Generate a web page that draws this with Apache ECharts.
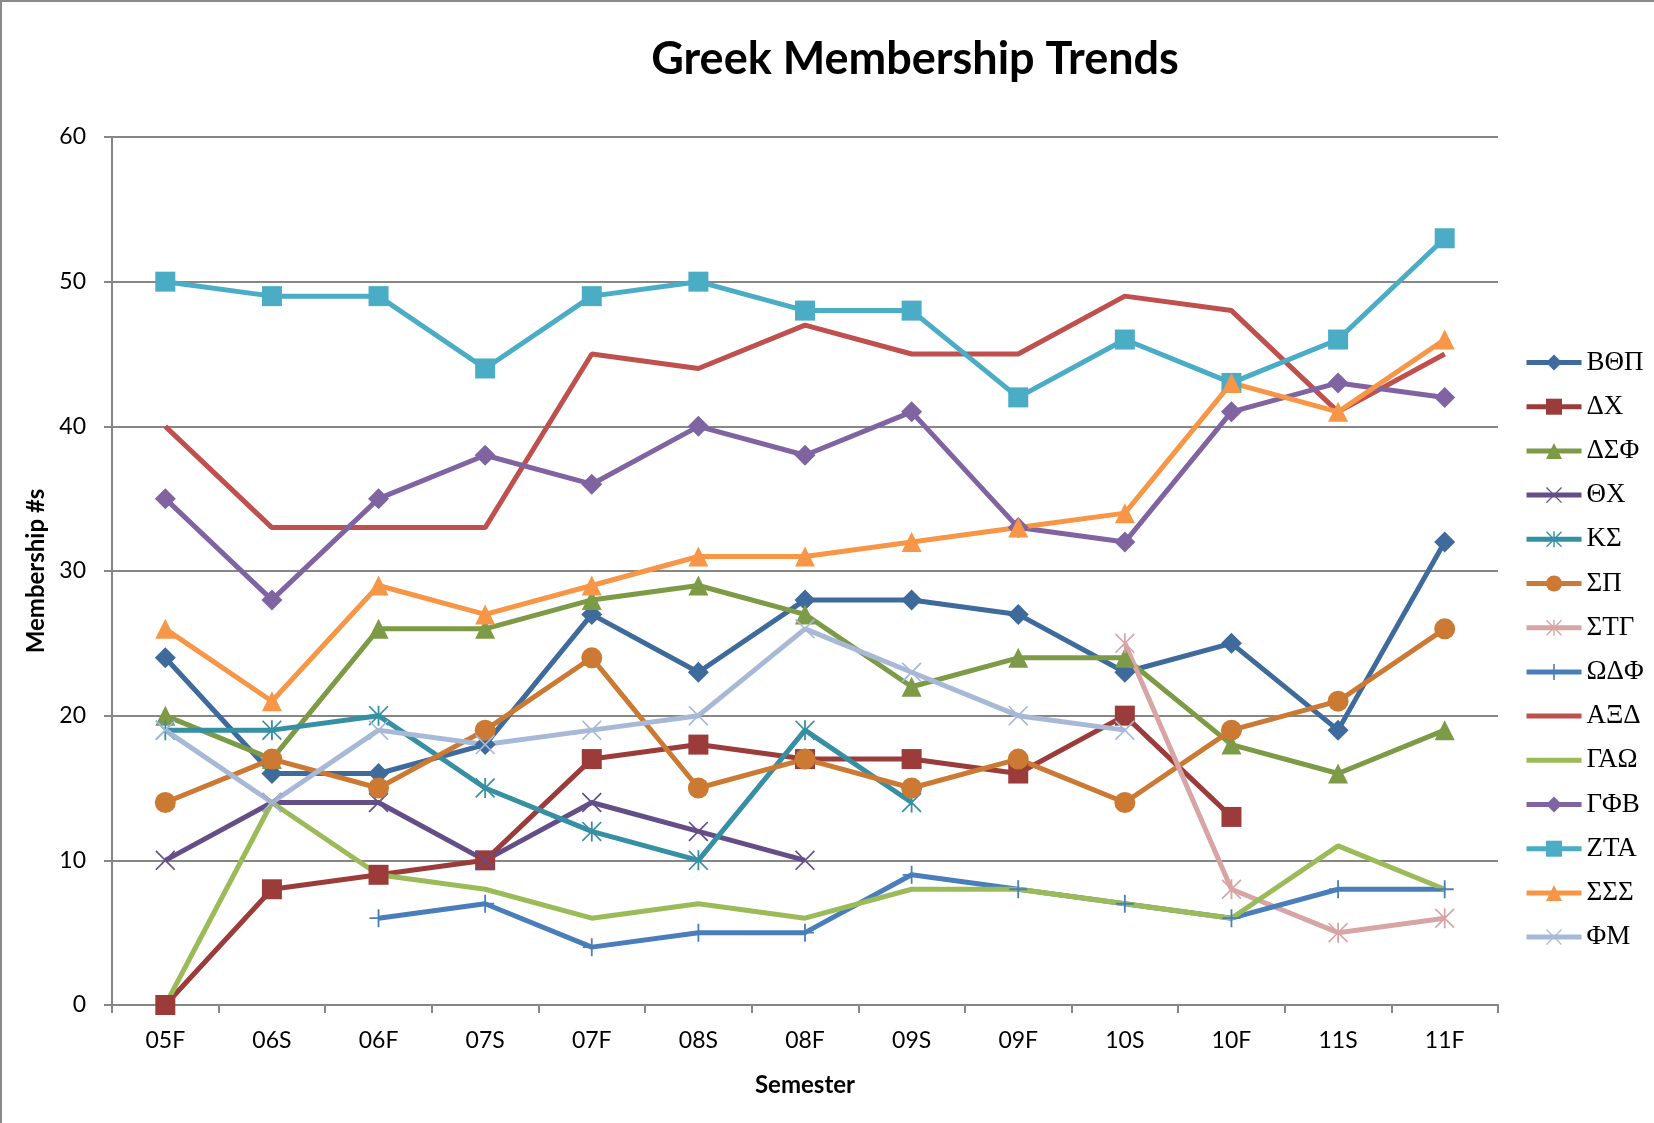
<!DOCTYPE html>
<html>
<head>
<meta charset="utf-8">
<script src="https://cdn.jsdelivr.net/npm/echarts@6/dist/echarts.min.js"></script>
<style>
html,body{margin:0;padding:0;background:#fff;}
#chart{width:1654px;height:1123px;}
</style>
</head>
<body>
<div id="chart"></div>
<script>
const semesters = ['05F','06S','06F','07S','07F','08S','08F','09S','09F','10S','10F','11S','11F'];
const yTicks = [0, 10, 20, 30, 40, 50, 60];

const BThP = [24, 16, 16, 18, 27, 23, 28, 28, 27, 23, 25, 19, 32];
const DX   = [0, 8, 9, 10, 17, 18, 17, 17, 16, 20, 13, null, null];
const DSF  = [20, 17, 26, 26, 28, 29, 27, 22, 24, 24, 18, 16, 19];
const ThX  = [10, 14, 14, 10, 14, 12, 10, null, null, null, null, null, null];
const KS   = [19, 19, 20, 15, 12, 10, 19, 14, null, null, null, null, null];
const SP   = [14, 17, 15, 19, 24, 15, 17, 15, 17, 14, 19, 21, 26];
const STG  = [null, null, null, null, null, null, null, null, null, 25, 8, 5, 6];
const OmDF = [null, null, 6, 7, 4, 5, 5, 9, 8, 7, 6, 8, 8];
const AXD  = [40, 33, 33, 33, 45, 44, 47, 45, 45, 49, 48, 41, 45];
const GAO  = [0, 14, 9, 8, 6, 7, 6, 8, 8, 7, 6, 11, 8];
const GFB  = [35, 28, 35, 38, 36, 40, 38, 41, 33, 32, 41, 43, 42];
const ZTA  = [50, 49, 49, 44, 49, 50, 48, 48, 42, 46, 43, 46, 53];
const SSS  = [26, 21, 29, 27, 29, 31, 31, 32, 33, 34, 43, 41, 46];
const FM   = [19, 14, 19, 18, 19, 20, 26, 23, 20, 19, null, null, null];

const X_PATH = 'path://M0,1.2 L1.2,0 L10,8.8 L18.8,0 L20,1.2 L11.2,10 L20,18.8 L18.8,20 L10,11.2 L1.2,20 L0,18.8 L8.8,10 Z';
const STAR_PATH = 'path://M0,1.2 L1.2,0 L10,8.8 L18.8,0 L20,1.2 L11.2,10 L20,18.8 L18.8,20 L10,11.2 L1.2,20 L0,18.8 L8.8,10 Z M9.1,0 L10.9,0 L10.9,20 L9.1,20 Z';
const PLUS_PATH = 'path://M9,0 L11,0 L11,9 L20,9 L20,11 L11,11 L11,20 L9,20 L9,11 L0,11 L0,9 L9,9 Z';

function mk(name, data, color, symbol, size) {
  return {
    name: name,
    type: 'line',
    data: data,
    symbol: symbol || 'none',
    showSymbol: !!symbol,
    symbolSize: size || 20,
    lineStyle: { color: color, width: 5 },
    itemStyle: { color: color },
    connectNulls: false,
    emphasis: { disabled: true }
  };
}

const series = [
  mk('ΒΘΠ', BThP, '#3E6A9C', 'diamond', 21),
  mk('ΔΧ', DX, '#9C3C3A', 'rect', 20),
  mk('ΔΣΦ', DSF, '#7D9A46', 'triangle', 20),
  mk('ΘΧ', ThX, '#644E88', X_PATH, 20),
  mk('ΚΣ', KS, '#378FA3', STAR_PATH, 20),
  mk('ΣΠ', SP, '#CC7A33', 'circle', 21),
  mk('ΣΤΓ', STG, '#D8A5A5', STAR_PATH, 20),
  mk('ΩΔΦ', OmDF, '#4A7EBB', PLUS_PATH, 18),
  mk('ΑΞΔ', AXD, '#C0504D', null),
  mk('ΓΑΩ', GAO, '#9BBB59', null),
  mk('ΓΦΒ', GFB, '#8064A2', 'diamond', 21),
  mk('ΖΤΑ', ZTA, '#4BACC6', 'rect', 20),
  mk('ΣΣΣ', SSS, '#F79646', 'triangle', 20),
  mk('ΦΜ', FM, '#A7B9D7', X_PATH, 20)
];

const legendData = series.map(s => (s.symbol === 'none'
  ? { name: s.name, itemStyle: { opacity: 0 } }
  : { name: s.name }));

const chart = echarts.init(document.getElementById('chart'), null, { renderer: 'canvas' });
chart.setOption({
  animation: false,
  backgroundColor: '#ffffff',
  title: {
    text: 'Greek Membership Trends',
    left: 910,
    textAlign: 'center',
    top: 32,
    textStyle: { fontFamily: 'Lato', fontWeight: 'bold', fontSize: 45, color: '#000' }
  },
  graphic: [{
    type: 'rect',
    shape: { x: 1, y: 1, width: 2000, height: 2000 },
    style: { fill: null, stroke: '#8a8a8a', lineWidth: 2 },
    silent: true
  }],
  legend: {
    orient: 'vertical',
    left: 1524,
    top: 349,
    padding: 0,
    itemWidth: 55,
    itemHeight: 20,
    itemGap: 17.2,
    data: legendData,
    lineStyle: { width: 5 },
    textStyle: { fontFamily: 'Liberation Serif', fontSize: 27, color: '#000' },
    selectedMode: false
  },
  grid: { left: 112, right: 156, top: 137, bottom: 118, containLabel: false },
  xAxis: {
    type: 'category',
    data: semesters,
    boundaryGap: true,
    name: 'Semester',
    nameLocation: 'middle',
    nameGap: 68,
    nameTextStyle: { fontFamily: 'Lato', fontWeight: 'bold', fontSize: 24, color: '#000' },
    axisLine: { show: true, lineStyle: { color: '#868686', width: 2 } },
    axisTick: { show: true, length: 8, alignWithLabel: false, lineStyle: { color: '#868686', width: 2 } },
    axisLabel: { fontFamily: 'Lato', fontSize: 23, color: '#000', margin: 24 },
    splitLine: { show: false }
  },
  yAxis: {
    type: 'value',
    min: yTicks[0],
    max: yTicks[yTicks.length - 1],
    interval: 10,
    name: 'Membership #s',
    nameLocation: 'middle',
    nameGap: 50,
    nameRotate: 90,
    nameTextStyle: { fontFamily: 'Lato', fontWeight: 'bold', fontSize: 24, color: '#000' },
    axisLine: { show: true, lineStyle: { color: '#868686', width: 2 } },
    axisTick: { show: true, length: 8, lineStyle: { color: '#868686', width: 2 } },
    axisLabel: { fontFamily: 'Lato', fontSize: 23, color: '#000', margin: 26 },
    splitLine: { show: true, lineStyle: { color: '#868686', width: 2 } }
  },
  series: series
});
</script>
</body>
</html>
